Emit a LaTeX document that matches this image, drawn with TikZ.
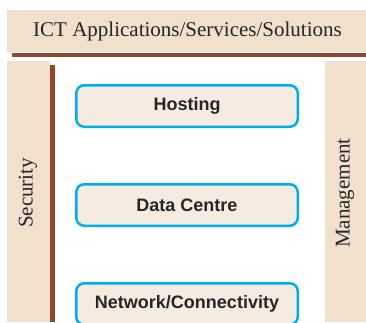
\documentclass[tikz,border=0pt]{standalone}
\usepackage{fontspec}
\setmainfont{Liberation Serif}
\newfontfamily\boxfont{Liberation Sans}
\usepackage{tikz}
\usetikzlibrary{positioning,backgrounds}
\definecolor{bandfill}{HTML}{F0E0CC}
\definecolor{boxfill}{HTML}{F5EBE0}
\definecolor{rust}{HTML}{92462A}
\definecolor{edgeblue}{HTML}{00AEEF}

\begin{document}
\begin{tikzpicture}[x=1pt,y=-1pt,
	layer/.style={inner sep=0pt,text=black!85,font=\fontsize{21}{25}\selectfont},
	service/.style={draw=edgeblue,line width=2.5pt,fill=boxfill,rounded corners=8pt,
		minimum width=221.5pt,minimum height=41.5pt,inner sep=0pt,text=black!85,
		font=\boxfont\bfseries\fontsize{18}{22}\selectfont}]
	\useasboundingbox (0,0) rectangle (366,322);
	% top band
	\fill[bandfill] (7,10) rectangle (366,52);
	\fill[rust] (12,53) rectangle (366,57);
	\node[layer] (title) at (187.5,31) {ICT Applications/Services/Solutions};
	% side columns
	\fill[bandfill] (7,61) rectangle (50,322);
	\fill[rust] (50,65) rectangle (55,322);
	\fill[bandfill] (325,61) rectangle (366,322);
	\node[layer,rotate=90] (security) at (28,193) {Security};
	\node[layer,rotate=90] (management) at (345,193) {Management};
	% stacked services
	\node[service] (hosting) at (187,106) {Hosting};
	\node[service] (datacentre) at (187,205) {Data Centre};
	\node[service] (network) at (187,304) {Network/Connectivity};
\end{tikzpicture}
\end{document}
